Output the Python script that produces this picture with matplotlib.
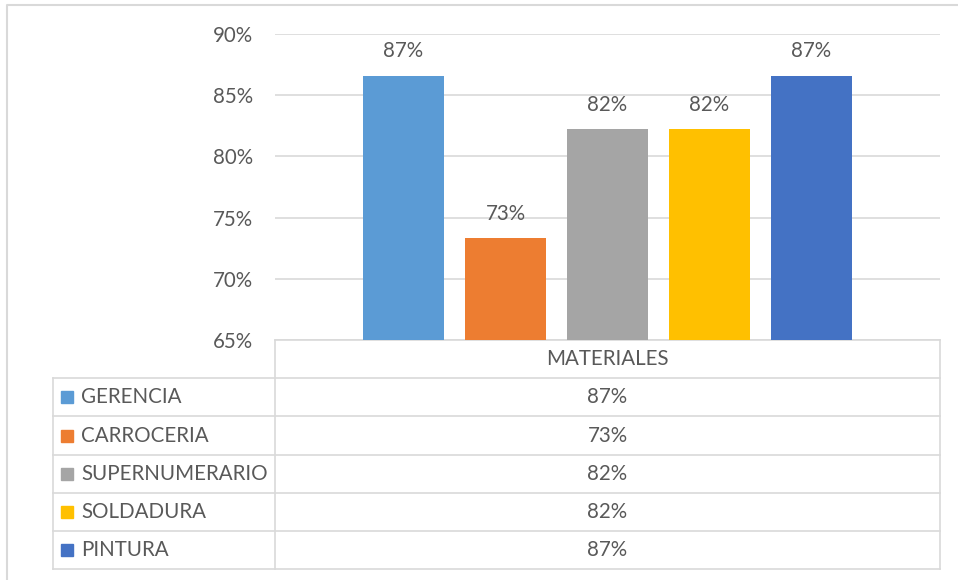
import matplotlib.pyplot as plt

categoria = 'MATERIALES'
areas = ['GERENCIA', 'CARROCERIA', 'SUPERNUMERARIO', 'SOLDADURA', 'PINTURA']
valores = [0.866, 0.733, 0.822, 0.822, 0.866]
colores = ['#5B9BD5', '#ED7D31', '#A5A5A5', '#FFC000', '#4472C4']
ticks_y = [0.65, 0.70, 0.75, 0.80, 0.85, 0.90]

plt.rcParams['font.family'] = ['Lato', 'DejaVu Sans']
gris_texto = '#595959'
gris_linea = '#D9D9D9'
tam = 14.8

W, H = 958, 580
fig = plt.figure(figsize=(W / 100, H / 100), dpi=100)

# capa de fondo en pixeles (marco y tabla de datos)
fondo = fig.add_axes([0, 0, 1, 1])
fondo.set_xlim(0, W)
fondo.set_ylim(H, 0)
fondo.axis('off')

x_izq, x_col, x_der = 53, 275, 940
y_arr, y_base = 34, 340
alto_fila = 38.2

# area del grafico
ax = fig.add_axes([x_col / W, 1 - y_base / H, (x_der - x_col) / W, (y_base - y_arr) / H])
ax.patch.set_alpha(0)
pos = list(range(len(areas)))
ax.bar(pos, valores, width=0.79, color=colores, zorder=3)
ax.set_ylim(ticks_y[0], ticks_y[-1])
ax.set_xlim(-1.26, len(areas) - 1 + 1.26)
ax.set_yticks(ticks_y)
ax.set_yticklabels([f'{t:.0%}' for t in ticks_y])
ax.set_xticks([])
ax.tick_params(axis='y', length=0, pad=15.5, labelsize=tam, labelcolor=gris_texto)
ax.grid(axis='y', color=gris_linea, linewidth=1.2, zorder=0)
for s in ax.spines.values():
    s.set_visible(False)
for x, v in zip(pos, valores):
    ax.annotate(f'{v:.0%}', (x, v), xytext=(0, 13.5), textcoords='offset points',
                ha='center', va='baseline', fontsize=tam, color=gris_texto)

# marco exterior
fondo.plot([7, 7, W], [H, 5, 5], color=gris_linea, linewidth=1.5)

# tabla de datos
y_filas = [y_base + alto_fila * k for k in range(len(areas) + 2)]
fondo.plot([x_col, x_der], [y_base, y_base], color=gris_linea, linewidth=1.2)
for y in y_filas[1:]:
    fondo.plot([x_izq, x_der], [y, y], color=gris_linea, linewidth=1.2)
fondo.plot([x_izq, x_izq], [y_filas[1], y_filas[-1]], color=gris_linea, linewidth=1.2)
fondo.plot([x_col, x_col], [y_base, y_filas[-1]], color=gris_linea, linewidth=1.2)
fondo.plot([x_der, x_der], [y_base, y_filas[-1]], color=gris_linea, linewidth=1.2)

x_centro = (x_col + x_der) / 2
fondo.text(x_centro, (y_filas[0] + y_filas[1]) / 2, categoria, ha='center', va='center',
           fontsize=tam, color=gris_texto)
for k, (nombre, v, c) in enumerate(zip(areas, valores, colores)):
    yc = (y_filas[k + 1] + y_filas[k + 2]) / 2
    fondo.add_patch(plt.Rectangle((61, yc - 6), 12, 12, color=c))
    fondo.text(81, yc, nombre, ha='left', va='center', fontsize=tam, color=gris_texto)
    fondo.text(x_centro, yc, f'{v:.0%}', ha='center', va='center', fontsize=tam, color=gris_texto)

fig.savefig('out.png', dpi=100)
